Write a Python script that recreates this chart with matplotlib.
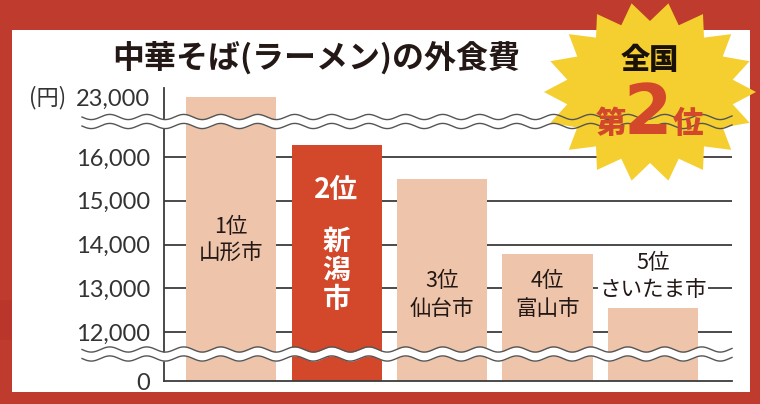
import numpy as np
import matplotlib
matplotlib.use('Agg')
import matplotlib.pyplot as plt
from matplotlib.patches import Polygon, Rectangle
from matplotlib.scale import FuncScale

plt.rcParams['font.family'] = ['Noto Sans CJK JP', 'DejaVu Sans']

# ---- data ----
cities = ['山形市', '新潟市', '仙台市', '富山市', 'さいたま市']
ranks = ['1位', '2位', '3位', '4位', '5位']
values = [22900, 16280, 15500, 13780, 12560]
tick_values = [0, 12000, 13000, 14000, 15000, 16000, 23000]
tick_labels = ['0', '12,000', '13,000', '14,000', '15,000', '16,000', '23,000']
grid_values = [12000, 13000, 14000, 15000, 16000]
title = '中華そば(ラーメン)の外食費'
unit = '(円)'
badge_top = '全国'
badge_rank = ['第', '2', '位']

# ---- colours ----
RED_BG = '#BE3B2D'
PALE = '#EEC4AA'
HIGHLIGHT = '#D3472A'
YELLOW = '#F5CF2F'
TEXT = '#231815'
AXIS = '#3c3c3c'

W, H = 760, 404
fig = plt.figure(figsize=(W / 100, H / 100), dpi=100)

# background layer (pixel coordinates)
bg = fig.add_axes([0, 0, 1, 1], zorder=0)
bg.set_xlim(0, W)
bg.set_ylim(H, 0)
bg.axis('off')
bg.add_patch(Rectangle((0, 0), W, H, facecolor=RED_BG, edgecolor='none'))
bg.add_patch(Rectangle((0, 300), 12, 40, facecolor='#B83029', edgecolor='none', alpha=0.5))
bg.add_patch(Rectangle((12, 30), 738, 362, facecolor='white', edgecolor='none'))

# ---- broken scale (piecewise linear) ----
seg_vals = [0, 12000, 16800, 23000, 30000]
seg_pos = [0, 49, 259, 284, 312.2]


def fwd(y):
    return np.interp(y, seg_vals, seg_pos)


def inv(v):
    return np.interp(v, seg_pos, seg_vals)


left, right, bottom, top = 164, 732, 381, 88
ax = fig.add_axes([left / W, (H - bottom) / H, (right - left) / W, (bottom - top) / H], zorder=1)
ax.patch.set_visible(False)
ax.set_yscale(FuncScale(ax.yaxis, (fwd, inv)))
ax.set_ylim(0, inv(293))

x = np.arange(len(cities))
step = 105.5
ax.set_xlim((left - 231) / step, (right - 231) / step)

colors = [PALE, HIGHLIGHT, PALE, PALE, PALE]
ax.bar(x, values, width=90 / step, color=colors, zorder=2)
ax.hlines(grid_values, ax.get_xlim()[0], ax.get_xlim()[1], color=AXIS, lw=1.3, zorder=1)

ax.set_yticks(tick_values)
ax.set_yticklabels(tick_labels)
ax.set_xticks([])
ax.tick_params(axis='y', length=0, pad=10, labelcolor='#333333')
for lab in ax.get_yticklabels():
    lab.set_fontfamily(['Lato', 'DejaVu Sans'])
    lab.set_fontweight('normal')
    lab.set_fontsize(17)
for s in ['top', 'right']:
    ax.spines[s].set_visible(False)
for s in ['left', 'bottom']:
    ax.spines[s].set_color(AXIS)
    ax.spines[s].set_linewidth(1.3)

blend = ax.get_xaxis_transform()
label_y = [0.481, None, 0.2935, 0.2935, 0.3567]
for i, (r, c) in enumerate(zip(ranks, cities)):
    if i == 1:
        ax.text(i, 0.652, r, transform=blend, ha='center', va='center', color='white',
                fontsize=20, fontweight='bold', zorder=4)
        ax.text(i, 0.375, '\n'.join(c), transform=blend, ha='center', va='center', color='white',
                fontsize=20, fontweight='bold', linespacing=1.05, zorder=4)
    else:
        bbox = dict(facecolor='white', edgecolor='none', pad=1) if i == 4 else None
        ax.text(i, label_y[i], r + '\n' + c, transform=blend, ha='center', va='center',
                color=TEXT, fontsize=15.5, linespacing=1.3, zorder=4, bbox=bbox)

# ---- overlay: waves, unit, title, badge ----
ov = fig.add_axes([0, 0, 1, 1], zorder=3)
ov.set_xlim(0, W)
ov.set_ylim(H, 0)
ov.axis('off')


def wave(yc):
    xs = np.linspace(82, 732, 600)
    ys = 2.6 * np.sin(2 * np.pi * (xs - 82) / 37.0)
    y1 = yc - 4.5 + ys
    y2 = yc + 4.5 + ys
    ov.fill_between(xs, y1, y2, color='white', lw=0)
    ov.plot(xs, y1, color='#555555', lw=1.0)
    ov.plot(xs, y2, color='#555555', lw=1.0)


wave(121.5)
wave(354)

ov.text(66, 98, unit, ha='right', va='center', fontsize=16, color='#333333',
        family=['Noto Sans CJK JP'])
ov.text(316, 58, title, ha='center', va='center', fontsize=23, fontweight='bold', color=TEXT)

# starburst
n = 18
ang = np.pi / 2 + np.pi / n + np.arange(2 * n) * np.pi / n
rx = np.where(np.arange(2 * n) % 2 == 0, 106, 84)
ry = np.where(np.arange(2 * n) % 2 == 0, 90, 71)
cx, cy = 650, 92
pts = np.column_stack([cx + rx * np.cos(ang), cy - ry * np.sin(ang)])
ov.add_patch(Polygon(pts, closed=True, facecolor=YELLOW, edgecolor='none'))

ov.text(650, 60, badge_top, ha='center', va='center', fontsize=21, fontweight='heavy', color='#1a1208')
ov.text(611, 123, badge_rank[0], ha='center', va='center', fontsize=22, fontweight='heavy', color=HIGHLIGHT)
ov.text(648, 114, badge_rank[1], ha='center', va='center', fontsize=50, fontweight='heavy', color=HIGHLIGHT,
        family=['DejaVu Sans'])
ov.text(688, 123, badge_rank[2], ha='center', va='center', fontsize=22, fontweight='heavy', color=HIGHLIGHT)

fig.savefig('out.png', dpi=100)
